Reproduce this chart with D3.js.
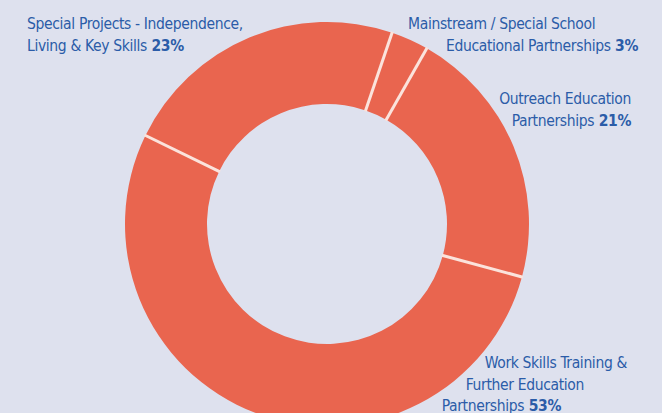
<!DOCTYPE html>
<html>
<head>
<meta charset="utf-8">
<script src="https://cdn.jsdelivr.net/npm/d3@7"></script>
<style>
  html, body { margin: 0; padding: 0; background: #dee1ee; }
  svg { display: block; }
  .lbl { font-family: "Liberation Sans Narrow", "DejaVu Sans Condensed", "Arial Narrow", sans-serif; font-size: 15.5px; letter-spacing: -0.35px; fill: #2b5ca8; }
  .lbl .pct { font-weight: bold; }
</style>
</head>
<body>
<div id="chart"></div>
<script>
// slice order goes clockwise, starting from the Special Projects slice
const categories = [
    "Special Projects - Independence, Living & Key Skills",
    "Mainstream / Special School Educational Partnerships",
    "Outreach Education Partnerships",
    "Work Skills Training & Further Education Partnerships"
]
const values = [23, 3, 21, 53]

// label text split as in the picture, last line gets the bold percentage
const labelLines = [
    ["Special Projects - Independence,", "Living & Key Skills"],
    ["Mainstream / Special School", "Educational Partnerships"],
    ["Outreach Education", "Partnerships"],
    ["Work Skills Training &", "Further Education", "Partnerships"]
]

// where each text line sits (layout only)
const labelLayout = [
    { anchor: "start", xs: [27, 27], y: 29 },
    { anchor: "start", xs: [408, 446], y: 29 },
    { anchor: "end", xs: [631, 631], y: 104 },
    { anchor: "end", xs: [627, 584, 561], y: 368 }
]

const width = 662, height = 413
const cx = 327, cy = 224
const outerR = 202, innerR = 120
const lineH = 21.5

const svg = d3.select("#chart").append("svg")
    .attr("width", width)
    .attr("height", height)

const pie = d3.pie()
    .sort(null)
    .value(d => d)
    .startAngle(-64 * Math.PI / 180)
    .endAngle((360 - 64) * Math.PI / 180)

const arcs = pie(values)

const arc = d3.arc()
    .innerRadius(innerR)
    .outerRadius(outerR)

const g = svg.append("g")
    .attr("transform", `translate(${cx},${cy})`)

g.selectAll("path.slice")
    .data(arcs)
    .join("path")
    .attr("class", "slice")
    .attr("d", arc)
    .attr("fill", "#e9654f")

// thin light separators between slices
g.selectAll("line.sep")
    .data(arcs)
    .join("line")
    .attr("class", "sep")
    .attr("x1", d => Math.sin(d.startAngle) * (innerR - 1))
    .attr("y1", d => -Math.cos(d.startAngle) * (innerR - 1))
    .attr("x2", d => Math.sin(d.startAngle) * (outerR + 1))
    .attr("y2", d => -Math.cos(d.startAngle) * (outerR + 1))
    .attr("stroke", "#fbe3dc")
    .attr("stroke-width", 3)

const labels = svg.selectAll("text.lbl")
    .data(arcs)
    .join("text")
    .attr("class", "lbl")
    .attr("text-anchor", (d, i) => labelLayout[i].anchor)

labels.each(function (d, i) {
    const t = d3.select(this)
    const lines = labelLines[i]
    const lay = labelLayout[i]
    lines.forEach((line, j) => {
        t.append("tspan")
            .attr("x", lay.xs[j])
            .attr("y", lay.y + j * lineH)
            .text(line)
        if (j === lines.length - 1) {
            t.append("tspan")
                .attr("class", "pct")
                .text(" " + d.data + "%")
        }
    })
})
</script>
</body>
</html>
